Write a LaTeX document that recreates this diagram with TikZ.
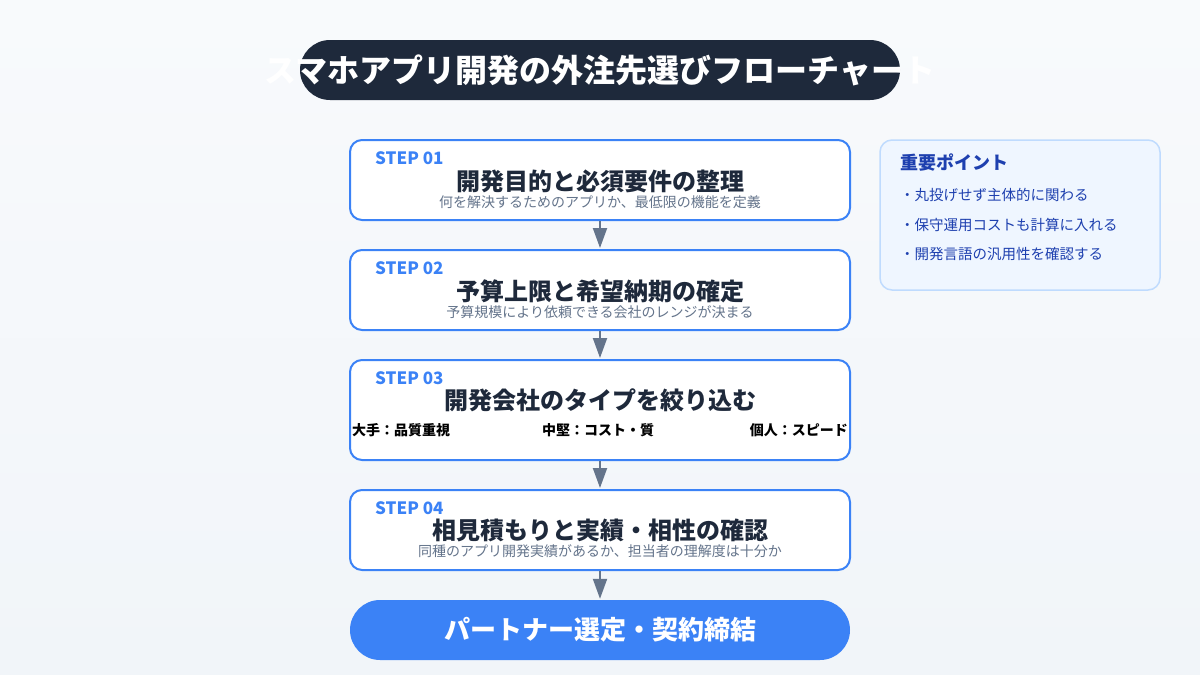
\documentclass[tikz,border=0pt]{standalone}
\usepackage{fontspec}
\setmainfont{Noto Sans CJK JP}
\usepackage{tikz}
\usetikzlibrary{arrows.meta}
\definecolor{navy}{HTML}{1E293B}
\definecolor{accent}{HTML}{3B82F6}
\definecolor{slate}{HTML}{64748B}
\definecolor{ink}{HTML}{1E293B}
\definecolor{paper}{HTML}{F8FAFC}
\definecolor{paperlow}{HTML}{F1F5F9}
\definecolor{notefill}{HTML}{EFF6FF}
\definecolor{noteline}{HTML}{BFDBFE}
\definecolor{notetext}{HTML}{1E40AF}
\tikzstyle{stepbox} = [draw=accent, line width=2pt, fill=white, rounded corners=12pt, minimum width=500pt, inner sep=0pt]
\tikzstyle{steplabel} = [text=accent, font=\bfseries\fontsize{17}{19}\selectfont, anchor=west, inner sep=0pt]
\tikzstyle{steptitle} = [text=ink, font=\bfseries\fontsize{24}{28}\selectfont, inner sep=0pt]
\tikzstyle{stepnote} = [text=slate, font=\fontsize{14}{17}\selectfont, inner sep=0pt]
\tikzstyle{kind} = [text=black, font=\bfseries\fontsize{14}{16}\selectfont, inner sep=0pt]
\tikzstyle{point} = [text=notetext, font=\fontsize{14.5}{17}\selectfont, anchor=west, inner sep=0pt]
\tikzstyle{flow} = [draw=slate, line width=2pt, -{Triangle[length=20pt, width=14pt]}, shorten >=1pt]

\begin{document}
\begin{tikzpicture}[x=1pt, y=-1pt]
    \useasboundingbox (0,0) rectangle (1200,675);
    \shade[top color=paper, bottom color=paperlow] (0,0) rectangle (1200,675);
    % title
    \node[fill=navy, rounded corners=30pt, minimum width=600pt, minimum height=60pt] (banner) at (600,70) {};
    \node[text=white, font=\bfseries\fontsize{32}{36}\selectfont, inner sep=0pt] (heading) at (600,70) {スマホアプリ開発の外注先選びフローチャート};
    % steps
    \node[stepbox, minimum height=80pt] (s1) at (600,180) {};
    \node[steplabel] (s1n) at (375,158) {STEP 01};
    \node[steptitle] (s1t) at (600,181) {開発目的と必須要件の整理};
    \node[stepnote] (s1d) at (600,202) {何を解決するためのアプリか、最低限の機能を定義};

    \node[stepbox, minimum height=80pt] (s2) at (600,290) {};
    \node[steplabel] (s2n) at (375,268) {STEP 02};
    \node[steptitle] (s2t) at (600,291) {予算上限と希望納期の確定};
    \node[stepnote] (s2d) at (600,312) {予算規模により依頼できる会社のレンジが決まる};

    \node[stepbox, minimum height=100pt] (s3) at (600,410) {};
    \node[steplabel] (s3n) at (375,378) {STEP 03};
    \node[steptitle] (s3t) at (600,400) {開発会社のタイプを絞り込む};
    \node[kind, anchor=west] (big) at (352,430) {大手：品質重視};
    \node[kind] (mid) at (598,430) {中堅：コスト・質};
    \node[kind, anchor=east] (solo) at (848,430) {個人：スピード};

    \node[stepbox, minimum height=80pt] (s4) at (600,530) {};
    \node[steplabel] (s4n) at (375,508) {STEP 04};
    \node[steptitle] (s4t) at (600,530) {相見積もりと実績・相性の確認};
    \node[stepnote] (s4d) at (600,551) {同種のアプリ開発実績があるか、担当者の理解度は十分か};

    \node[fill=accent, rounded corners=30pt, minimum width=500pt, minimum height=60pt] (goal) at (600,630) {};
    \node[text=white, font=\bfseries\fontsize{26}{30}\selectfont, inner sep=0pt] (goalt) at (600,630) {パートナー選定・契約締結};
    % arrows
    \draw[flow] (s1) -- (s2);
    \draw[flow] (s2) -- (s3);
    \draw[flow] (s3) -- (s4);
    \draw[flow] (s4) -- (goal);
    % side note
    \node[draw=noteline, line width=1.5pt, fill=notefill, rounded corners=12pt, minimum width=280pt, minimum height=150pt] (tips) at (1020,215) {};
    \node[text=notetext, font=\bfseries\fontsize{18}{20}\selectfont, anchor=west, inner sep=0pt] (tipst) at (900,163) {重要ポイント};
    \node[point] (tip1) at (900,195) {・丸投げせず主体的に関わる};
    \node[point] (tip2) at (900,225) {・保守運用コストも計算に入れる};
    \node[point] (tip3) at (900,254) {・開発言語の汎用性を確認する};
\end{tikzpicture}
\end{document}
